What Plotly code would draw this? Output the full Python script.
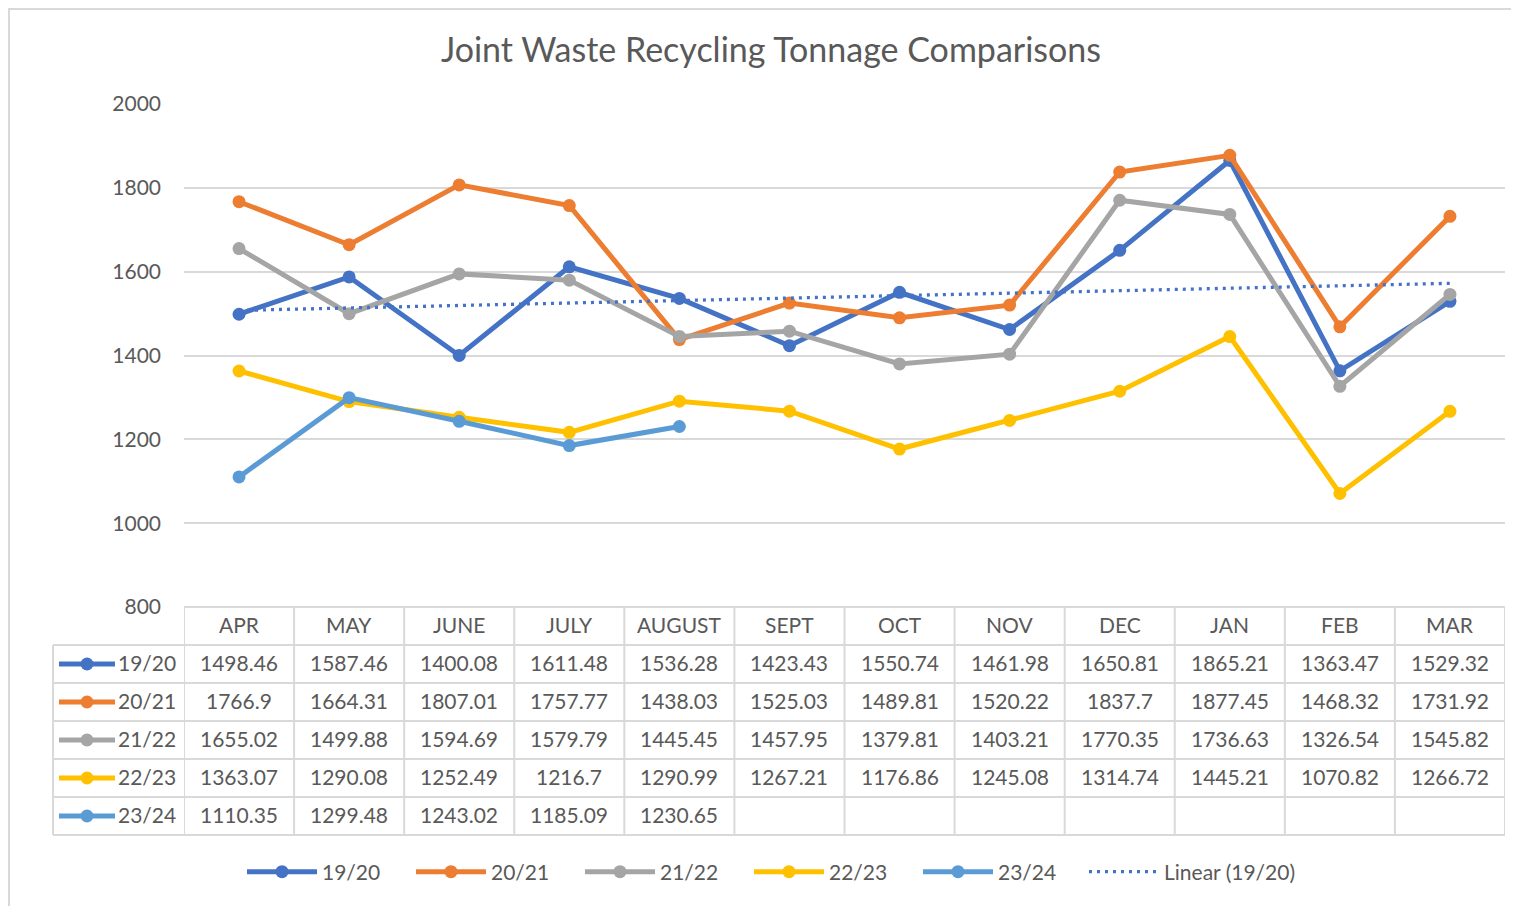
import numpy as np
import plotly.graph_objects as go

# the page adds an 8px body margin; the figure is sized to fit the window exactly
OFF = 8
W, H = 1519 - OFF, 906 - OFF

months = ["APR", "MAY", "JUNE", "JULY", "AUGUST", "SEPT", "OCT", "NOV", "DEC", "JAN", "FEB", "MAR"]
series_names = ["19/20", "20/21", "21/22", "22/23", "23/24"]
s_19_20 = [1498.46, 1587.46, 1400.08, 1611.48, 1536.28, 1423.43, 1550.74, 1461.98, 1650.81, 1865.21, 1363.47, 1529.32]
s_20_21 = [1766.9, 1664.31, 1807.01, 1757.77, 1438.03, 1525.03, 1489.81, 1520.22, 1837.7, 1877.45, 1468.32, 1731.92]
s_21_22 = [1655.02, 1499.88, 1594.69, 1579.79, 1445.45, 1457.95, 1379.81, 1403.21, 1770.35, 1736.63, 1326.54, 1545.82]
s_22_23 = [1363.07, 1290.08, 1252.49, 1216.7, 1290.99, 1267.21, 1176.86, 1245.08, 1314.74, 1445.21, 1070.82, 1266.72]
s_23_24 = [1110.35, 1299.48, 1243.02, 1185.09, 1230.65]
all_series = [s_19_20, s_20_21, s_21_22, s_22_23, s_23_24]
colors = ["#4472C4", "#ED7D31", "#A5A5A5", "#FFC000", "#5B9BD5"]
y_ticks = [800, 1000, 1200, 1400, 1600, 1800, 2000]

FONT = "Lato"
TXT = "#595959"
GRID = "#D9D9D9"
FS = 21

# layout in window pixels
PL, PR, PT, PB = 184, 1505, 104, 607
TBL_L = 53
HDR_B = 645
ROW_H = 38
TXT_NUDGE = 2  # lift table text slightly


def fx(x):
    return (x - OFF) / W


def fy(y):
    return 1 - (y - OFF) / H


xi = list(range(len(months)))

fig = go.Figure()
for name, vals, col in zip(series_names, all_series, colors):
    fig.add_trace(go.Scatter(
        x=xi[:len(vals)], y=vals, name=name, mode="lines+markers",
        line=dict(color=col, width=5),
        marker=dict(color=col, size=13),
        legend="legend",
    ))

# linear trendline of 19/20
t = np.arange(1, len(s_19_20) + 1)
slope, icpt = np.polyfit(t, s_19_20, 1)
fig.add_trace(go.Scatter(
    x=xi, y=slope * t + icpt, name="Linear (19/20)", mode="lines",
    line=dict(color="#4472C4", width=3.3, dash="3px,5px"),
    legend="legend2",
))

shapes = []
annotations = []

# outer chart border (left and top edges visible)
shapes.append(dict(type="rect", xref="paper", yref="paper",
                   x0=fx(9), x1=fx(1530), y0=fy(9), y1=fy(930),
                   line=dict(color=GRID, width=2), layer="below"))

# table horizontal lines
shapes.append(dict(type="line", xref="paper", yref="paper",
                   x0=fx(PL), x1=fx(PR), y0=fy(PB), y1=fy(PB),
                   line=dict(color=GRID, width=2)))
for r in range(len(series_names) + 1):
    yy = HDR_B + r * ROW_H
    shapes.append(dict(type="line", xref="paper", yref="paper",
                       x0=fx(TBL_L), x1=fx(PR), y0=fy(yy), y1=fy(yy),
                       line=dict(color=GRID, width=2)))
bottom = HDR_B + len(series_names) * ROW_H
# table vertical lines
for k in range(len(months) + 1):
    shapes.append(dict(type="line", xref="x", yref="paper",
                       x0=k - 0.5, x1=k - 0.5, y0=fy(PB), y1=fy(bottom),
                       line=dict(color=GRID, width=2)))
shapes.append(dict(type="line", xref="paper", yref="paper",
                   x0=fx(TBL_L), x1=fx(TBL_L), y0=fy(HDR_B), y1=fy(bottom),
                   line=dict(color=GRID, width=2)))

# header labels
for i, m in enumerate(months):
    annotations.append(dict(x=i, y=fy((PB + HDR_B) / 2 - TXT_NUDGE), xref="x", yref="paper",
                            text=m, showarrow=False, xanchor="center", yanchor="middle",
                            font=dict(family=FONT, size=FS, color=TXT)))

# rows
for r, (name, vals, col) in enumerate(zip(series_names, all_series, colors)):
    yc = HDR_B + r * ROW_H + ROW_H / 2
    shapes.append(dict(type="line", xref="paper", yref="paper",
                       x0=fx(59), x1=fx(115), y0=fy(yc), y1=fy(yc),
                       line=dict(color=col, width=5)))
    rr = 6.5
    shapes.append(dict(type="circle", xref="paper", yref="paper",
                       x0=fx(87 - rr), x1=fx(87 + rr), y0=fy(yc + rr), y1=fy(yc - rr),
                       fillcolor=col, line=dict(color=col, width=0)))
    annotations.append(dict(x=fx(116), y=fy(yc - TXT_NUDGE), xref="paper", yref="paper",
                            text=name, showarrow=False, xanchor="left", yanchor="middle",
                            font=dict(family=FONT, size=FS, color=TXT)))
    for i, v in enumerate(vals):
        annotations.append(dict(x=i, y=fy(yc - TXT_NUDGE), xref="x", yref="paper",
                                text=f"{v:g}", showarrow=False, xanchor="center", yanchor="middle",
                                font=dict(family=FONT, size=FS, color=TXT)))

legend_common = dict(orientation="h", yanchor="middle", y=fy(872),
                     font=dict(family=FONT, size=FS, color=TXT),
                     itemwidth=70, tracegroupgap=0, bgcolor="rgba(0,0,0,0)")

fig.update_layout(
    width=W, height=H, autosize=False,
    margin=dict(l=0, r=0, t=0, b=0, pad=0, autoexpand=False),
    paper_bgcolor="white", plot_bgcolor="white",
    title=dict(text="Joint Waste Recycling Tonnage Comparisons",
               x=fx(771), xanchor="center", y=fy(50), yanchor="middle",
               font=dict(family=FONT, size=34, color=TXT)),
    xaxis=dict(domain=[fx(PL), fx(PR)], range=[-0.5, len(months) - 0.5],
               showticklabels=False, showgrid=False, zeroline=False, showline=False, ticks=""),
    yaxis=dict(domain=[fy(PB), fy(PT)], range=[800, 2000], tickvals=y_ticks,
               showgrid=True, gridcolor=GRID, gridwidth=2, zeroline=False, showline=False,
               ticks="", ticklabelstandoff=22,
               tickfont=dict(family=FONT, size=FS, color=TXT)),
    showlegend=True,
    legend=dict(x=fx(242), xanchor="left", entrywidth=84, **legend_common),
    legend2=dict(x=fx(1084), xanchor="left", entrywidth=0, **legend_common),
    shapes=shapes,
    annotations=annotations,
)

fig.write_html("out.html")
